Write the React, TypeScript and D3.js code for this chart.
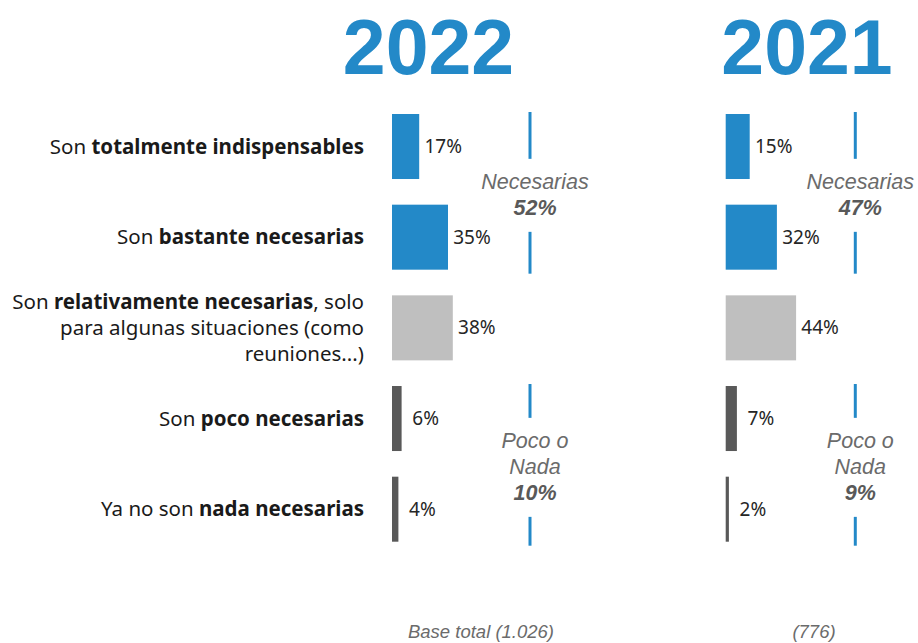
import * as d3 from 'd3';

const W = 918;
const H = 643;

// category labels, split into lines of [text, bold] runs
const categoryLabels: [string, boolean][][][] = [
  [[['Son ', false], ['totalmente indispensables', true]]],
  [[['Son ', false], ['bastante necesarias', true]]],
  [
    [['Son ', false], ['relativamente necesarias', true], [', solo', false]],
    [['para algunas situaciones (como', false]],
    [['reuniones...)', false]],
  ],
  [[['Son ', false], ['poco necesarias', true]]],
  [[['Ya no son ', false], ['nada necesarias', true]]],
];
const categoryKeys = ['totalmente', 'bastante', 'relativamente', 'poco', 'nada'];
const categoryColors = ['#2389C8', '#2389C8', '#BFBFBF', '#595959', '#595959'];

const values2022 = [17, 35, 38, 6, 4];
const values2021 = [15, 32, 44, 7, 2];

const years = ['2022', '2021'];
const bases = ['Base total (1.026)', '(776)'];

// grouped totals: label lines, value, first and last category index
const groups2022 = [
  { lines: ['Necesarias'], value: '52%', from: 0, to: 1 },
  { lines: ['Poco o', 'Nada'], value: '10%', from: 3, to: 4 },
];
const groups2021 = [
  { lines: ['Necesarias'], value: '47%', from: 0, to: 1 },
  { lines: ['Poco o', 'Nada'], value: '9%', from: 3, to: 4 },
];

const panels = [
  { year: years[0], base: bases[0], values: values2022, groups: groups2022, x0: 392, divider: 530, titleX: 428.5, baseX: 481 },
  { year: years[1], base: bases[1], values: values2021, groups: groups2021, x0: 725.7, divider: 855.3, titleX: 807, baseX: 814 },
];

const BLUE = '#2389C8';
const SANS = "'Noto Sans', 'Open Sans', sans-serif";
const ARIAL = "'Liberation Sans', Arial, sans-serif";

export default function App() {
  const y = d3
    .scaleBand<string>()
    .domain(categoryKeys)
    .range([114, 541.7])
    .paddingInner(0.283)
    .paddingOuter(0);

  const x = d3.scaleLinear().domain([0, 100]).range([0, 160]);
  const bw = y.bandwidth();
  const lineH = 26;

  return (
    <svg
      width={W}
      height={H}
      viewBox={`0 0 ${W} ${H}`}
      style={{ position: 'absolute', left: 0, top: 0, background: '#fff' }}
    >
      {/* category labels */}
      {categoryLabels.map((lines, i) => {
        const cy = (y(categoryKeys[i]) ?? 0) + bw / 2;
        const first = cy + 7 - ((lines.length - 1) * lineH) / 2;
        return (
          <text
            key={categoryKeys[i]}
            textAnchor="end"
            fontFamily={SANS}
            fontSize={20.5}
            fill="#1a1a1a"
          >
            {lines.map((runs, li) => (
              <tspan key={li} x={364} y={first + li * lineH}>
                {runs.map(([t, b], ri) => (
                  <tspan key={ri} fontWeight={b ? 700 : 400}>
                    {t}
                  </tspan>
                ))}
              </tspan>
            ))}
          </text>
        );
      })}

      {panels.map((p) => (
        <g key={p.year}>
          <text
            x={p.titleX}
            y={74}
            textAnchor="middle"
            fontFamily={ARIAL}
            fontWeight={700}
            fontSize={77}
            fill={BLUE}
          >
            {p.year}
          </text>

          {p.values.map((v, i) => {
            const top = y(categoryKeys[i]) ?? 0;
            return (
              <g key={categoryKeys[i]}>
                <rect
                  x={p.x0}
                  y={top}
                  width={x(v)}
                  height={bw}
                  fill={categoryColors[i]}
                />
                <text
                  x={p.x0 + x(v) + 24}
                  y={top + bw / 2 + 6.5}
                  textAnchor="middle"
                  fontFamily={SANS}
                  fontSize={19}
                  fill="#262626"
                >
                  {v}%
                </text>
              </g>
            );
          })}

          {p.groups.map((g) => {
            const start = (y(categoryKeys[g.from]) ?? 0) - 2;
            const end = (y(categoryKeys[g.to]) ?? 0) + bw + 4;
            const mid = (start + end) / 2;
            const n = g.lines.length + 1;
            const blockTop = mid - (n * lineH) / 2;
            const blockBottom = mid + (n * lineH) / 2;
            return (
              <g key={g.value + g.from}>
                <line
                  x1={p.divider}
                  x2={p.divider}
                  y1={start}
                  y2={blockTop - 8}
                  stroke={BLUE}
                  strokeWidth={3}
                />
                <line
                  x1={p.divider}
                  x2={p.divider}
                  y1={blockBottom + 13}
                  y2={end}
                  stroke={BLUE}
                  strokeWidth={3}
                />
                <text
                  textAnchor="middle"
                  fontFamily={ARIAL}
                  fontStyle="italic"
                  fontSize={21.5}
                  fill="#6b6b6b"
                >
                  {g.lines.map((l, li) => (
                    <tspan key={li} x={p.divider + 5} y={blockTop + 22 + li * lineH}>
                      {l}
                    </tspan>
                  ))}
                  <tspan
                    x={p.divider + 5}
                    y={blockTop + 22 + g.lines.length * lineH}
                    fontWeight={700}
                    fill="#595959"
                  >
                    {g.value}
                  </tspan>
                </text>
              </g>
            );
          })}

          <text
            x={p.baseX}
            y={638}
            textAnchor="middle"
            fontFamily={ARIAL}
            fontStyle="italic"
            fontSize={18.5}
            fill="#6b6b6b"
          >
            {p.base}
          </text>
        </g>
      ))}
    </svg>
  );
}
